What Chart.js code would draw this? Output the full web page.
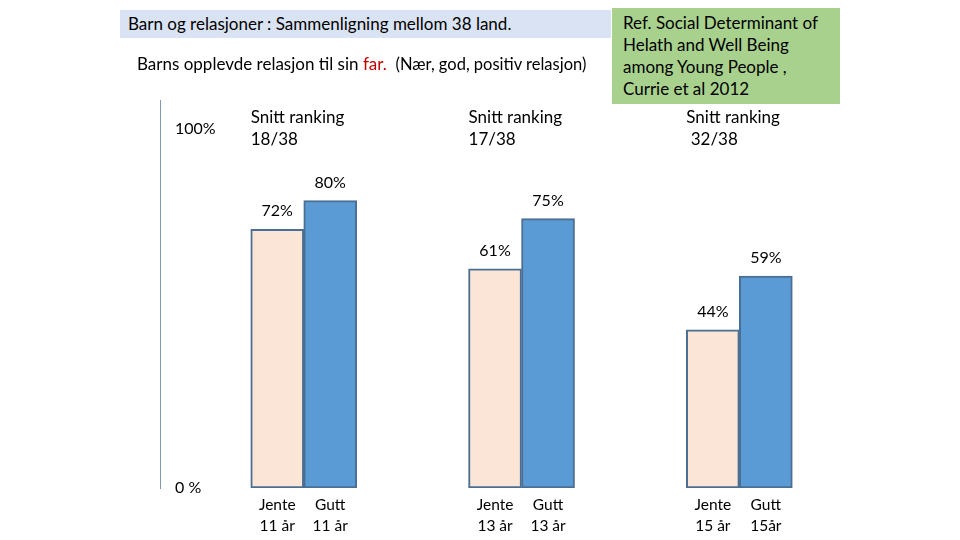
<!DOCTYPE html>
<html>
<head>
<meta charset="utf-8">
<script src="https://cdn.jsdelivr.net/npm/chart.js@4"></script>
<style>
  body{margin:0;background:#fff;font-family:Lato,"Open Sans",sans-serif;color:#000;}
  #wrap{position:relative;width:960px;height:540px;overflow:hidden;}
  #myChart{position:absolute;left:0;top:0;}
  .title{position:absolute;left:120px;top:10px;width:491px;height:28px;background:#dae3f3;font-size:17px;line-height:28px;padding-left:8px;box-sizing:border-box;white-space:nowrap;}
  .sub{position:absolute;left:137px;top:53px;font-size:17px;white-space:nowrap;}
  .sub .far{color:#c00000;}
  .sub small{font-size:16.5px;}
  .ref{position:absolute;left:612px;top:8px;width:228px;height:96px;background:#a9d18e;font-size:17px;line-height:22px;padding:4px 0 0 11px;box-sizing:border-box;white-space:nowrap;}
</style>
</head>
<body>
<div id="wrap">
  <canvas id="myChart" width="960" height="540"></canvas>
  <div class="title">Barn og relasjoner : Sammenligning mellom 38 land.</div>
  <div class="sub">Barns opplevde relasjon til sin <span class="far">far.</span>&nbsp; <small>(Nær, god, positiv relasjon)</small></div>
  <div class="ref">Ref. Social Determinant of<br>Helath and Well Being<br>among Young People ,<br>Currie et al 2012</div>
</div>
<script>
const ages = ['11 år', '13 år', '15 år'];
const guttAges = ['11 år', '13 år', '15år'];
const jente = [72, 61, 44];
const gutt = [80, 75, 59];
const ranking = ['18/38', '17/38', ' 32/38'];
const yTicks = [0, 100];
const yTickLabels = ['0 %', '100%'];

const ctx = document.getElementById('myChart');

// text on top of bars, names under them, ranking per group
const barTexts = {
  id: 'barTexts',
  afterDatasetsDraw(chart) {
    const c = chart.ctx;
    const area = chart.chartArea;
    const jm = chart.getDatasetMeta(0).data;
    const gm = chart.getDatasetMeta(1).data;
    c.save();
    c.fillStyle = '#000';
    c.textAlign = 'center';
    c.textBaseline = 'middle';
    [[jm, jente, ages, 'Jente'], [gm, gutt, guttAges, 'Gutt']].forEach(([bars, vals, lab, name]) => {
      bars.forEach((b, i) => {
        c.font = '16px Lato';
        c.fillText(vals[i] + '%', b.x, b.y - 18);
        c.font = '15.5px Lato';
        c.fillText(name, b.x, area.bottom + 17);
        c.fillText(lab[i], b.x, area.bottom + 38);
      });
    });
    c.font = '17px Lato';
    c.textAlign = 'left';
    jm.forEach((b, i) => {
      const x = b.x - b.width / 2;
      c.fillText('Snitt ranking', x, area.top + 18);
      c.fillText(ranking[i], x, area.top + 40);
    });
    c.restore();
  }
};

new Chart(ctx, {
  type: 'bar',
  data: {
    datasets: [{
      label: 'Jente',
      data: jente.map((v, i) => ({x: i + 1, y: v})),
      backgroundColor: '#fbe5d6',
      borderColor: '#4a6f93',
      borderWidth: 2,
      borderSkipped: false,
      barThickness: 53
    }, {
      label: 'Gutt',
      data: gutt.map((v, i) => ({x: i + 1, y: v})),
      backgroundColor: '#5b9bd5',
      borderColor: '#4a6f93',
      borderWidth: 2,
      borderSkipped: false,
      barThickness: 53
    }]
  },
  options: {
    responsive: false,
    animation: false,
    layout: {
      padding: {left: 130, top: 100, bottom: 52, right: 90}
    },
    plugins: {
      legend: {display: false},
      tooltip: {enabled: false}
    },
    scales: {
      x: {
        type: 'linear',
        bounds: 'data',
        offset: false,
        min: 0.34,
        max: 3.6,
        display: false
      },
      y: {
        bounds: 'data',
        min: 0,
        max: 108,
        afterBuildTicks: (s) => { s.ticks = yTicks.map(v => ({value: v})); },
        grid: {display: false, drawTicks: false},
        border: {display: true, color: '#8497b0', width: 1},
        ticks: {
          mirror: true,
          padding: 15,
          color: '#000',
          font: {family: 'Lato', size: 16},
          callback: (v) => yTickLabels[yTicks.indexOf(v)]
        }
      }
    }
  },
  plugins: [barTexts]
});
</script>
</body>
</html>
